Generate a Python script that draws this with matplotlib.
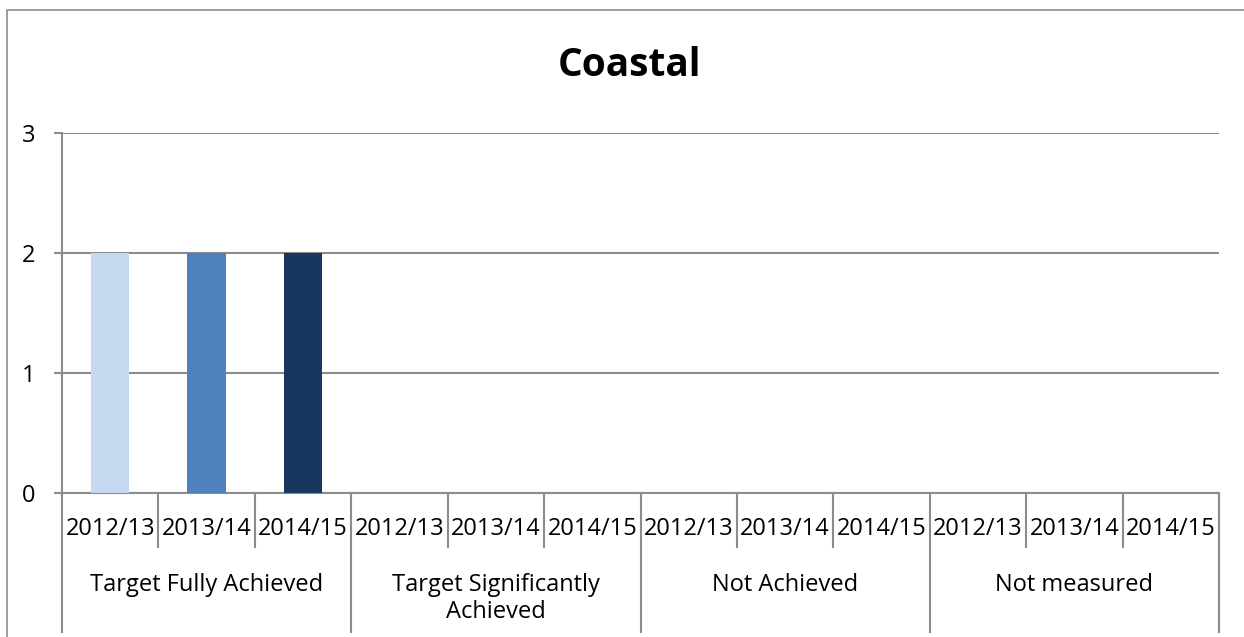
import numpy as np
import matplotlib.pyplot as plt
from matplotlib.lines import Line2D

plt.rcParams['font.family'] = ['Open Sans', 'DejaVu Sans']

title = 'Coastal'
groups = ['Target Fully Achieved', 'Target Significantly\nAchieved', 'Not Achieved', 'Not measured']
years = ['2012/13', '2013/14', '2014/15']
colors = ['#C6D9F1', '#4F81BD', '#17375E']
# values[year][group]
values = {
    '2012/13': [2, 0, 0, 0],
    '2013/14': [2, 0, 0, 0],
    '2014/15': [2, 0, 0, 0],
}

grey = '#8C8C8C'

fig = plt.figure(figsize=(12.44, 6.37), dpi=100)
ax = fig.add_axes([62/1244, 144/637, (1219-62)/1244, 360/637])

# outer chart border: only its left and top edges fall inside the image
bx, by = 7.5/1244, (637-9.5)/637
fig.lines.append(Line2D([bx, bx, 1.0], [0.0, by, by], transform=fig.transFigure,
                        color=grey, lw=1.2))

n_years = len(years)
for j, yr in enumerate(years):
    pos = [g*n_years + j for g in range(len(groups))]
    ax.bar(pos, values[yr], width=0.4, color=colors[j], zorder=3)

ax.set_xlim(-0.5, len(groups)*n_years - 0.5)
ax.set_ylim(0, 3)
ax.set_yticks([0, 1, 2, 3])
ax.yaxis.grid(True, color=grey, lw=1.5, zorder=0)
ax.tick_params(axis='y', length=6, width=1.5, color=grey, labelsize=17, pad=13)
ax.set_xticks([])
for s in ['top', 'right']:
    ax.spines[s].set_visible(False)
for s in ['left', 'bottom']:
    ax.spines[s].set_color(grey)
    ax.spines[s].set_linewidth(1.5)

# multi-level category axis
tr = ax.get_xaxis_transform()
n = len(groups)*n_years
for k in range(n + 1):
    xb = k - 0.5
    if k % n_years == 0:
        ax.plot([xb, xb], [0, -0.386], transform=tr, color=grey, lw=1.5, clip_on=False)
    else:
        ax.plot([xb, xb], [0, -0.15], transform=tr, color=grey, lw=1.5, clip_on=False)
for g, grp in enumerate(groups):
    for j, yr in enumerate(years):
        ax.text(g*n_years + j, -0.1, yr, transform=tr, ha='center', va='center', fontsize=17)
    ax.text(g*n_years + 1, -0.256 if '\n' not in grp else -0.293, grp, transform=tr,
            ha='center', va='center', fontsize=17, linespacing=1.2)

fig.text(629/1244, (637-66)/637, title, ha='center', va='center', fontsize=28, fontweight='bold')

fig.savefig('out.png', dpi=100)
